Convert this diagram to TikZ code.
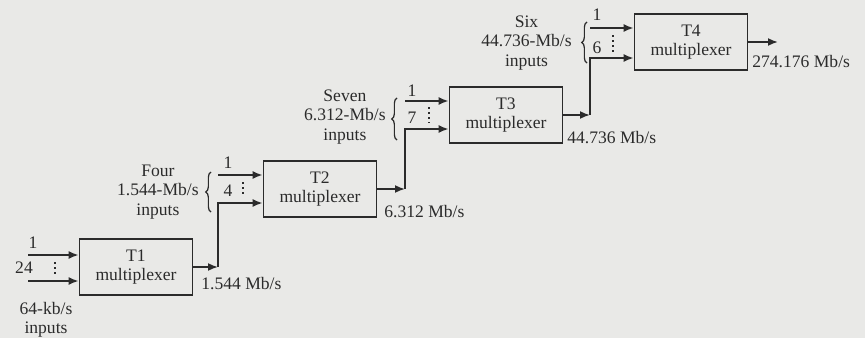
\documentclass[tikz,border=0pt]{standalone}
\usepackage{fontspec}
\setmainfont{Liberation Serif}
\usetikzlibrary{positioning,arrows.meta,decorations.pathreplacing}
\definecolor{paper}{HTML}{E9E9E7}
\definecolor{ink}{HTML}{2B2B2B}

\begin{document}
\begin{tikzpicture}[x=0.02cm,y=-0.02cm,every node/.style={font=\fontsize{10}{11}\selectfont,text=ink}]
    \tikzstyle{mux}=[rectangle,draw=ink,line width=1pt,minimum width=2.26cm,minimum height=1.12cm,align=center,inner sep=0pt];
    \tikzstyle{feed}=[-{Latex[length=2mm,width=1.6mm]},draw=ink,line width=1pt];
    \tikzstyle{dots}=[draw=ink,line width=0.9pt,dotted];
    \tikzstyle{grp}=[draw=ink,line width=0.7pt,decorate,decoration={brace,amplitude=3pt}];
    \tikzstyle{num}=[inner sep=0pt];
    \tikzstyle{rate}=[anchor=west,inner sep=0pt];
    \tikzstyle{src}=[align=center,inner sep=0pt];
    \useasboundingbox (0,0) rectangle (865,338);
    \fill[paper] (0,0) rectangle (865,338);
    % --- multiplexers ---
    \node[mux] (t1) at (136,267) {T1\\multiplexer};
    \node[mux] (t2) at (320,189) {T2\\multiplexer};
    \node[mux] (t3) at (506,115) {T3\\multiplexer};
    \node[mux] (t4) at (691,42)  {T4\\multiplexer};
    % --- T1: 24 inputs ---
    \coordinate (s1a) at (28,255); \coordinate (s1b) at (28,281);
    \draw[feed] (s1a) -- (s1a -| t1.west);
    \draw[feed] (s1b) -- (s1b -| t1.west);
    \draw[dots] (55,262) -- (55,276);
    \node[num] (n1a) at (33,243) {1};
    \node[num] (n1b) at (24,268) {24};
    \node[src] (in1) at (46,320) {64-kb/s\\inputs};
    % --- T2: 4 inputs ---
    \coordinate (s2a) at (218,175); \coordinate (c1) at (218,203);
    \draw[feed] (t1.east) -- (t1.east -| c1);
    \draw[feed] (t1.east -| c1) -- (c1) -- (c1 -| t2.west);
    \draw[feed] (s2a) -- (s2a -| t2.west);
    \draw[dots] (243,182) -- (243,197);
    \node[num] (n2a) at (228,163) {1};
    \node[num] (n2b) at (228,191) {4};
    \draw[grp] (211,212) -- (211,172);
    \node[src,anchor=east] (in2) at (199,192) {Four\\1.544-Mb/s\\inputs};
    \node[rate] (r1) at (201,284) {1.544 Mb/s};
    % --- T3: 7 inputs ---
    \coordinate (s3a) at (405,101); \coordinate (c2) at (405,129);
    \draw[feed] (t2.east) -- (t2.east -| c2);
    \draw[feed] (t2.east -| c2) -- (c2) -- (c2 -| t3.west);
    \draw[feed] (s3a) -- (s3a -| t3.west);
    \draw[dots] (429,107) -- (429,123);
    \node[num] (n3a) at (412,91) {1};
    \node[num] (n3b) at (412,118) {7};
    \draw[grp] (397,140) -- (397,98);
    \node[src,anchor=east] (in3) at (386,117) {Seven\\6.312-Mb/s\\inputs};
    \node[rate] (r2) at (384,212) {6.312 Mb/s};
    % --- T4: 6 inputs ---
    \coordinate (s4a) at (590,28); \coordinate (c3) at (590,58);
    \draw[feed] (t3.east) -- (t3.east -| c3);
    \draw[feed] (t3.east -| c3) -- (c3) -- (c3 -| t4.west);
    \draw[feed] (s4a) -- (s4a -| t4.west);
    \draw[dots] (613,35) -- (613,52);
    \node[num] (n4a) at (597,15) {1};
    \node[num] (n4b) at (597,48) {6};
    \draw[grp] (587,63) -- (587,22);
    \node[src,anchor=east] (in4) at (572,43) {Six\\44.736-Mb/s\\inputs};
    \node[rate] (r3) at (567,138) {44.736 Mb/s};
    % --- line out ---
    \coordinate (out) at (778,42);
    \draw[feed] (t4.east) -- (out);
    \node[rate] (r4) at (752,62) {274.176 Mb/s};
\end{tikzpicture}
\end{document}
